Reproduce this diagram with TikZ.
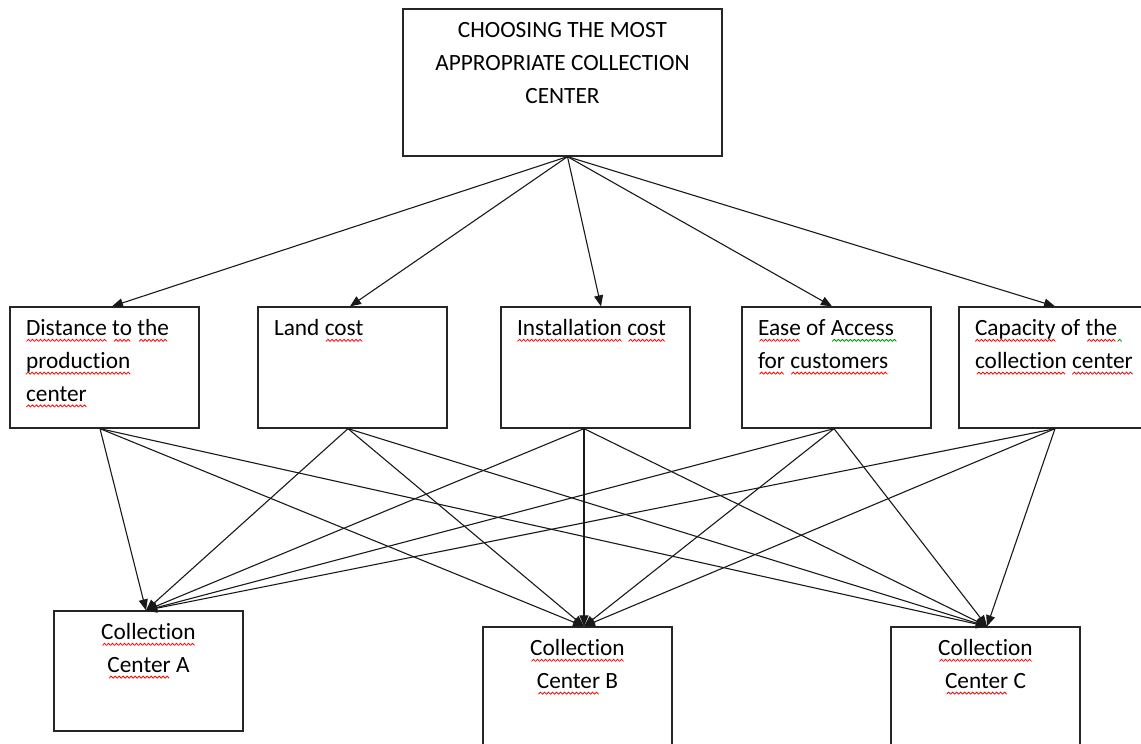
\documentclass[tikz,border=0pt]{standalone}
\usepackage{fontspec}
\setmainfont{Carlito}[Ligatures=NoCommon]
\usetikzlibrary{arrows.meta,calc}
\definecolor{spellred}{RGB}{255,0,0}
\definecolor{grammargreen}{RGB}{0,150,0}
% one period of a proofing squiggle, repeated with \cleaders
\newsavebox\redwave
\newsavebox\greenwave
\newsavebox\squigword
\newcommand\wavetile[1]{\begin{pgfpicture}%
  \pgfsetstrokecolor{#1}\pgfsetlinewidth{0.8pt}\pgfsetroundjoin
  \pgfpathmoveto{\pgfpoint{0pt}{0pt}}%
  \pgfpathlineto{\pgfpoint{2pt}{2.2pt}}%
  \pgfpathlineto{\pgfpoint{4pt}{0pt}}%
  \pgfusepath{stroke}%
  \pgfresetboundingbox
  \pgfpathrectangle{\pgfpointorigin}{\pgfpoint{4pt}{2.2pt}}%
  \pgfusepath{use as bounding box}%
  \end{pgfpicture}}
% word with a wavy underline below its baseline
\newcommand\squig[2]{\leavevmode\sbox\squigword{#2}%
  \rlap{\lower5.6pt\hbox to\wd\squigword{\cleaders\copy#1\hfill}}\usebox\squigword}
\newcommand\spellsq[1]{\squig\redwave{#1}}
\newcommand\grammarsq[1]{\squig\greenwave{#1}}
\begin{document}
\sbox\redwave{\wavetile{spellred}}%
\sbox\greenwave{\wavetile{grammargreen}}%
\begin{tikzpicture}[x=1pt,y=-1pt,
  box/.style={draw=black!85, line width=1.3pt, fill=white, inner sep=0pt,
              minimum width=189pt, minimum height=121pt},
  txt/.style={inner sep=0pt, font=\fontsize{23.3}{32.8}\selectfont},
  arr/.style={line width=1.1pt, draw=black!90, -{Triangle[length=11pt,width=9pt]}},
]
\useasboundingbox (0,0) rectangle (1141,744);
\clip (0,0) rectangle (1141,744);

% goal
\node[box, minimum width=319pt, minimum height=147pt] (goal) at (562.5,82.5) {};
\node[txt, anchor=base] (goaltext) at ($(goal.north)+(0,29.5)$)
  {\parbox[t]{310pt}{\centering CHOOSING THE MOST\\APPROPRIATE COLLECTION\\CENTER}};

% criteria
\node[box] (b1) at (104.5,367.5) {};
\node[box] (b2) at (352.5,367.5) {};
\node[box] (b3) at (595.5,367.5) {};
\node[box] (b4) at (836.5,367.5) {};
\node[box] (b5) at (1053.5,367.5) {};

\node[txt, anchor=base west] (t1) at ($(b1.north west)+(16.5,29.5)$)
  {\parbox[t]{200pt}{\raggedright\spellsq{Distance} \spellsq{to} \spellsq{the}\\\spellsq{production}\\\spellsq{center}}};
\node[txt, anchor=base west] (t2) at ($(b2.north west)+(16.5,29.5)$)
  {\parbox[t]{200pt}{\raggedright Land \spellsq{cost}}};
\node[txt, anchor=base west] (t3) at ($(b3.north west)+(16.5,29.5)$)
  {\parbox[t]{200pt}{\raggedright\spellsq{Installation} \spellsq{cost}}};
\node[txt, anchor=base west] (t4) at ($(b4.north west)+(16.5,29.5)$)
  {\parbox[t]{200pt}{\raggedright\spellsq{Ease} of \grammarsq{Access\hbox to 4pt{}}\\\spellsq{for} \spellsq{customers}}};
\node[txt, anchor=base west] (t5) at ($(b5.north west)+(16.5,29.5)$)
  {\parbox[t]{200pt}{\raggedright\spellsq{Capacity} of \spellsq{the}\grammarsq{\hbox to 5pt{}}\\\spellsq{collection} \spellsq{center}}};

% alternatives
\node[box, minimum height=120pt] (ca) at (148.5,671) {};
\node[box, minimum height=120pt] (cb) at (577.5,687) {};
\node[box, minimum height=120pt] (cc) at (985.5,687) {};

\node[txt, anchor=base] (tca) at ($(ca.north)+(0,29.5)$)
  {\parbox[t]{170pt}{\centering\spellsq{Collection}\\\spellsq{Center} A}};
\node[txt, anchor=base] (tcb) at ($(cb.north)+(0,29.5)$)
  {\parbox[t]{170pt}{\centering\spellsq{Collection}\\\spellsq{Center} B}};
\node[txt, anchor=base] (tcc) at ($(cc.north)+(0,29.5)$)
  {\parbox[t]{170pt}{\centering\spellsq{Collection}\\\spellsq{Center} C}};

% goal -> criteria
\draw[arr] ([xshift=5pt]goal.south) -- ([xshift=7.5pt]b1.north);
\draw[arr] ([xshift=5pt]goal.south) -- ([xshift=-2.5pt]b2.north);
\draw[arr] ([xshift=5pt]goal.south) -- ([xshift=5.5pt]b3.north);
\draw[arr] ([xshift=5pt]goal.south) -- ([xshift=-4.5pt]b4.north);
\draw[arr] ([xshift=5pt]goal.south) -- ([xshift=1.5pt]b5.north);

% criteria -> alternatives
\foreach \src/\sx in {b1/-4.5, b2/-4.5, b3/-11.5, b4/-2.5, b5/1.5} {
  \draw[arr] ([xshift=\sx pt]\src.south) -- ([xshift=-2.5pt]ca.north);
  \draw[arr] ([xshift=\sx pt]\src.south) -- ([xshift=6.5pt]cb.north);
  \draw[arr] ([xshift=\sx pt]\src.south) -- ([xshift=1.5pt]cc.north);
}
\end{tikzpicture}
\end{document}
